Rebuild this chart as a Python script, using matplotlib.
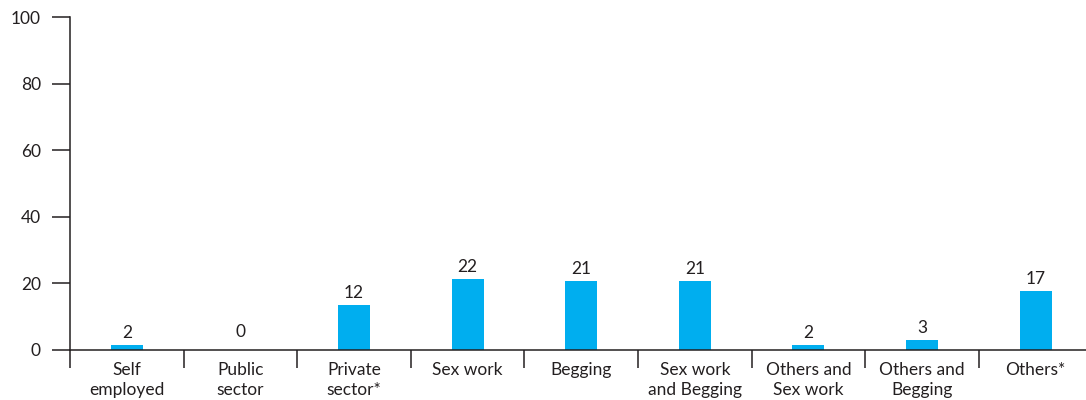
import matplotlib
matplotlib.use("Agg")
import matplotlib.pyplot as plt
import numpy as np

categories = ["Self\nemployed", "Public\nsector", "Private\nsector*", "Sex work", "Begging",
              "Sex work\nand Begging", "Others and\nSex work", "Others and\nBegging", "Others*"]
bar_values = [1.4, 0, 13.5, 21.3, 20.7, 20.7, 1.5, 3.0, 17.7]
value_labels = ["2", "0", "12", "22", "21", "21", "2", "3", "17"]
y_ticks = [0, 20, 40, 60, 80, 100]

TEXT = "#231F20"
BAR = "#00AEEF"
plt.rcParams['font.family'] = ['Lato', 'DejaVu Sans']

fig = plt.figure(figsize=(10.86, 4.0), dpi=100)
ax = fig.add_axes([70/1086, 50/400, 1 - 70/1086, 332.7/400])

x = np.arange(len(categories))
ax.bar(x, bar_values, width=0.28, color=BAR, zorder=2)
for xi, v, lab in zip(x, bar_values, value_labels):
    ax.annotate(lab, (xi, v), xytext=(0, 3 if v > 0 else 7), textcoords="offset points",
                ha="center", va="bottom", fontsize=12.5, color=TEXT)

ax.set_ylim(0, 100)
ax.set_xlim(-0.5, -0.5 + 1016/113.6)
ax.set_yticks(y_ticks)
ax.set_yticklabels([str(t) for t in y_ticks])
ax.tick_params(axis="y", length=13, width=1.1, color=TEXT, labelcolor=TEXT, labelsize=12.5, pad=8)

ax.set_xticks(x)
ax.set_xticklabels(categories, linespacing=1.3)
ax.tick_params(axis="x", which="major", length=0, labelsize=12.5, labelcolor=TEXT, pad=8.5)
ax.set_xticks(np.arange(len(categories)) - 0.5, minor=True)
ax.tick_params(axis="x", which="minor", length=13, width=1.1, color=TEXT)

for s in ["top", "right"]:
    ax.spines[s].set_visible(False)
for s in ["left", "bottom"]:
    ax.spines[s].set_color(TEXT)
    ax.spines[s].set_linewidth(1.1)

fig.savefig("out.png", dpi=100)
